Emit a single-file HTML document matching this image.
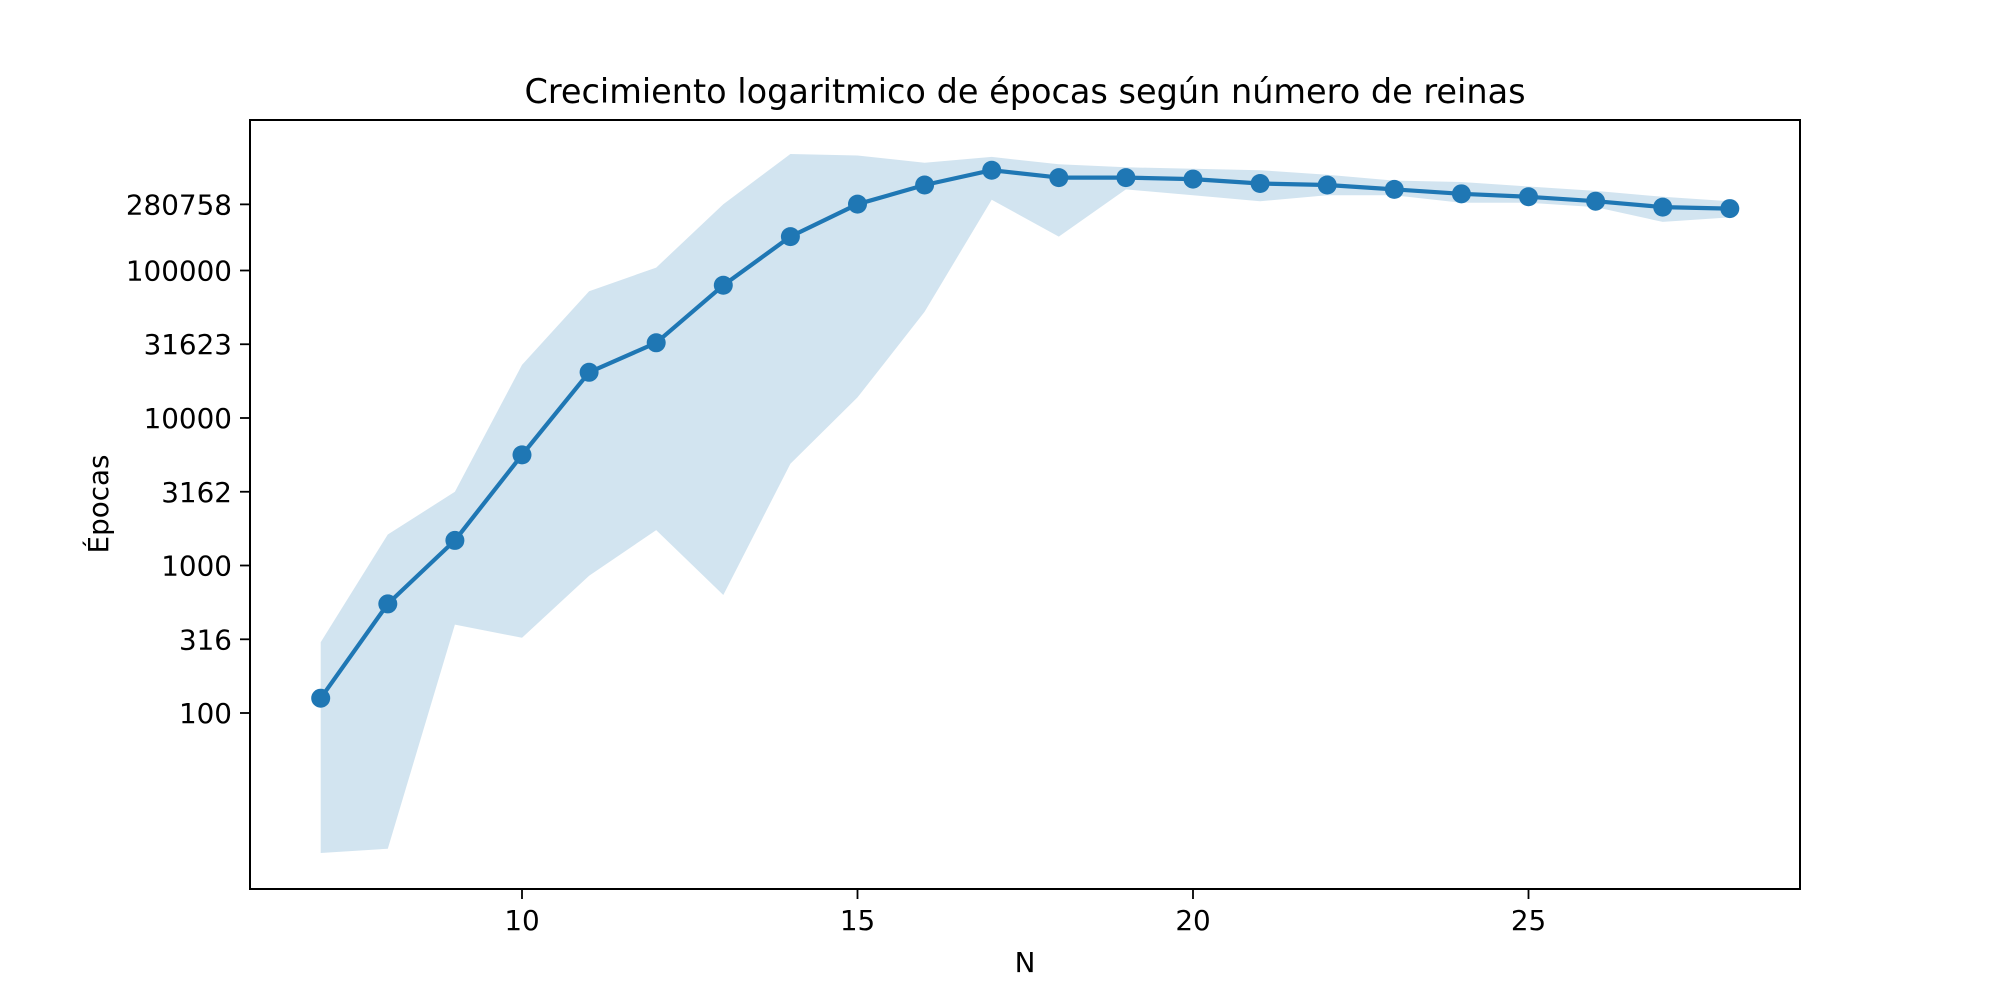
<!DOCTYPE html>
<html><head><meta charset="utf-8"><style>
html,body{margin:0;padding:0;background:#fff}
svg{display:block;font-family:"DejaVu Sans","Liberation Sans",sans-serif}
</style></head><body>
<svg id="chart" width="2000" height="1000" viewBox="0 0 2000 1000">
<rect width="2000" height="1000" fill="#fff"/>
<g id="band"></g>
<g id="series"></g>
<rect x="250" y="120" width="1550" height="769" fill="none" stroke="#000" stroke-width="2"/>
<g id="xaxis"></g>
<g id="yaxis"></g>
<text x="1025" y="103" text-anchor="middle" font-size="33.5">Crecimiento logaritmico de épocas según número de reinas</text>
<text x="1025" y="972" text-anchor="middle" font-size="27.8">N</text>
<text transform="translate(108,504) rotate(-90)" text-anchor="middle" font-size="27.8">Épocas</text>
</svg>
<script>
const nValues = [7,8,9,10,11,12,13,14,15,16,17,18,19,20,21,22,23,24,25,26,27,28];
const meanEpochs = [129,562,1514,5754,20893,33113,81283,173780,288403,389045,489779,436516,436516,426580,398107,389045,363078,338844,323594,301995,275423,269153];
const upperEpochs = [309,1660,3236,23442,74131,107152,288403,630957,616595,549541,602560,537032,512861,501187,489779,457088,416869,407380,380189,354813,323594,301995];
const lowerEpochs = [11.5,12.3,407,331,871,1778,646,5012,14125,53703,309030,173780,363078,331131,301995,331131,331131,295121,295121,275423,218776,234423];
const xTicks = [10,15,20,25];
const yTickVals = [100,316,1000,3162,10000,31623,100000,280758];
const yTickLabels = ["100","316","1000","3162","10000","31623","100000","280758"];
const NS="http://www.w3.org/2000/svg";
function X(n){return 522+(n-10)*67.1;}
function Y(v){return 714.5-147.5*(Math.log10(v)-2);}
function mk(tag,attrs,parent){const e=document.createElementNS(NS,tag);for(const k in attrs)e.setAttribute(k,attrs[k]);parent.appendChild(e);return e;}
const band=document.getElementById('band');
let pts=nValues.map((n,i)=>X(n).toFixed(1)+','+Y(upperEpochs[i]).toFixed(1));
for(let i=nValues.length-1;i>=0;i--)pts.push(X(nValues[i]).toFixed(1)+','+Y(lowerEpochs[i]).toFixed(1));
const poly=mk('polygon',{points:pts.join(' '),fill:'#1f77b4','fill-opacity':'0.2'},band);


const ser=document.getElementById('series');
const line=mk('polyline',{points:nValues.map((n,i)=>X(n).toFixed(1)+','+Y(meanEpochs[i]).toFixed(1)).join(' '),fill:'none',stroke:'#1f77b4','stroke-width':'4.2','stroke-linejoin':'round'},ser);


nValues.forEach((n,i)=>{
  const c=mk('circle',{cx:X(n),cy:Y(meanEpochs[i]),r:9.5,fill:'#1f77b4'},ser);
  
  
});
const xa=document.getElementById('xaxis');
xTicks.forEach(t=>{
  const l=mk('line',{x1:X(t),x2:X(t),y1:889,y2:899,stroke:'#000','stroke-width':'1.8'},xa);
  
  
  const tx=mk('text',{x:X(t),y:930,'text-anchor':'middle','font-size':'27.8'},xa);
  tx.textContent=t;
  
  
});
const ya=document.getElementById('yaxis');
yTickVals.forEach((v,i)=>{
  const yy=713-147.5*(Math.log10(v)-2);
  const l=mk('line',{x1:240,x2:250,y1:yy,y2:yy,stroke:'#000','stroke-width':'1.8'},ya);
  
  
  const tx=mk('text',{x:232,y:yy+10,'text-anchor':'end','font-size':'27.8'},ya);
  tx.textContent=yTickLabels[i];
  
  
});
</script>
</body></html>
